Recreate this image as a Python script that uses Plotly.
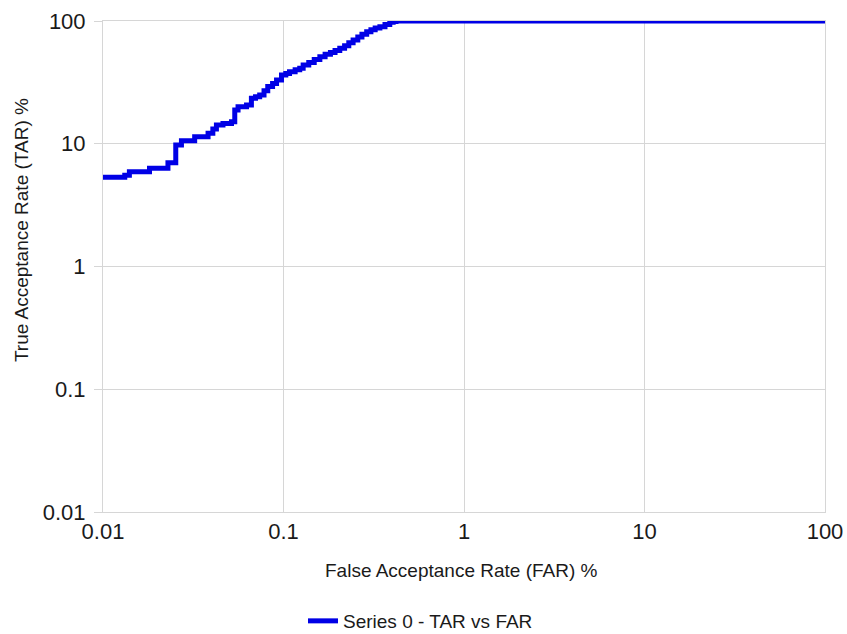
import plotly.graph_objects as go

far = [0.01, 0.0132, 0.0140, 0.0181, 0.0229, 0.0253, 0.0272, 0.0322, 0.0382, 0.0406,
       0.0425, 0.0462, 0.0515, 0.0537, 0.0560, 0.0624, 0.0664, 0.0700, 0.0738, 0.0780,
       0.0818, 0.0870, 0.0915, 0.0975, 0.1030, 0.108, 0.116, 0.123, 0.1285, 0.138,
       0.148, 0.159, 0.170, 0.182, 0.193, 0.205, 0.218, 0.230, 0.243, 0.258,
       0.272, 0.289, 0.305, 0.322, 0.342, 0.365, 0.388, 0.405, 0.42, 100]
tar = [5.33, 5.55, 5.92, 6.31, 7.01, 9.78, 10.6, 11.4, 12.2, 13.2,
       14.2, 14.6, 15.1, 18.8, 20.0, 20.7, 23.5, 24.2, 24.9, 27.0,
       29.2, 31.0, 33.1, 36.3, 37.4, 38.6, 40.0, 41.2, 43.8, 46.0,
       48.5, 51.2, 53.5, 55.5, 57.5, 59.9, 63.0, 66.5, 70.0, 74.0,
       78.0, 81.8, 85.0, 87.5, 89.9, 93.5, 97.6, 99.0, 100, 100]

tick_vals = [0.01, 0.1, 1, 10, 100]
tick_text = ["0.01", "0.1", "1", "10", "100"]

series_name = "Series 0 - TAR vs FAR"
x_title = "False Acceptance Rate (FAR) %"
y_title = "True Acceptance Rate (TAR) %"

FONT = "Liberation Sans, Arial, sans-serif"
TXT = "#1a1a1a"
GRID = "#d6d6d6"

fig = go.Figure()
fig.add_trace(go.Scatter(
    x=far, y=tar, mode="lines", name=series_name,
    line=dict(color="#0000e6", width=5, shape="hv"),
    cliponaxis=False,
))

fig.update_layout(
    width=847, height=634,
    margin=dict(l=103, r=22, t=21, b=122, autoexpand=False),
    paper_bgcolor="white", plot_bgcolor="white",
    font=dict(family=FONT, color=TXT),
    showlegend=True,
    legend=dict(orientation="h", x=0.277, xanchor="left", y=-0.222, yanchor="middle",
                font=dict(size=19, family=FONT, color=TXT), bgcolor="rgba(0,0,0,0)"),
    xaxis=dict(type="log", range=[-2, 2], tickvals=tick_vals, ticktext=tick_text,
               showgrid=True, gridcolor=GRID, gridwidth=1, automargin=False,
               showline=True, linecolor=GRID, linewidth=1, mirror=True,
               ticks="", tickfont=dict(size=22, family=FONT, color=TXT),
               zeroline=False),
    yaxis=dict(type="log", range=[-2, 2], tickvals=tick_vals, ticktext=tick_text,
               showgrid=True, gridcolor=GRID, gridwidth=1, automargin=False,
               showline=True, linecolor=GRID, linewidth=1, mirror=True,
               ticks="outside", ticklen=8, tickcolor=GRID, ticklabelstandoff=4,
               tickfont=dict(size=22, family=FONT, color=TXT),
               zeroline=False),
    annotations=[
        dict(text=x_title, xref="paper", yref="paper", x=0.497, y=-0.120,
             xanchor="center", yanchor="middle", showarrow=False,
             font=dict(size=19, family=FONT, color=TXT)),
        dict(text=y_title, xref="paper", yref="paper", x=-0.1137, y=0.574,
             xanchor="center", yanchor="middle", showarrow=False, textangle=-90,
             font=dict(size=19, family=FONT, color=TXT)),
    ],
)

fig.write_html(
    "out.html",
    config={"displayModeBar": False},
    post_script="document.body.style.margin='0';document.documentElement.style.overflow='hidden';",
)
